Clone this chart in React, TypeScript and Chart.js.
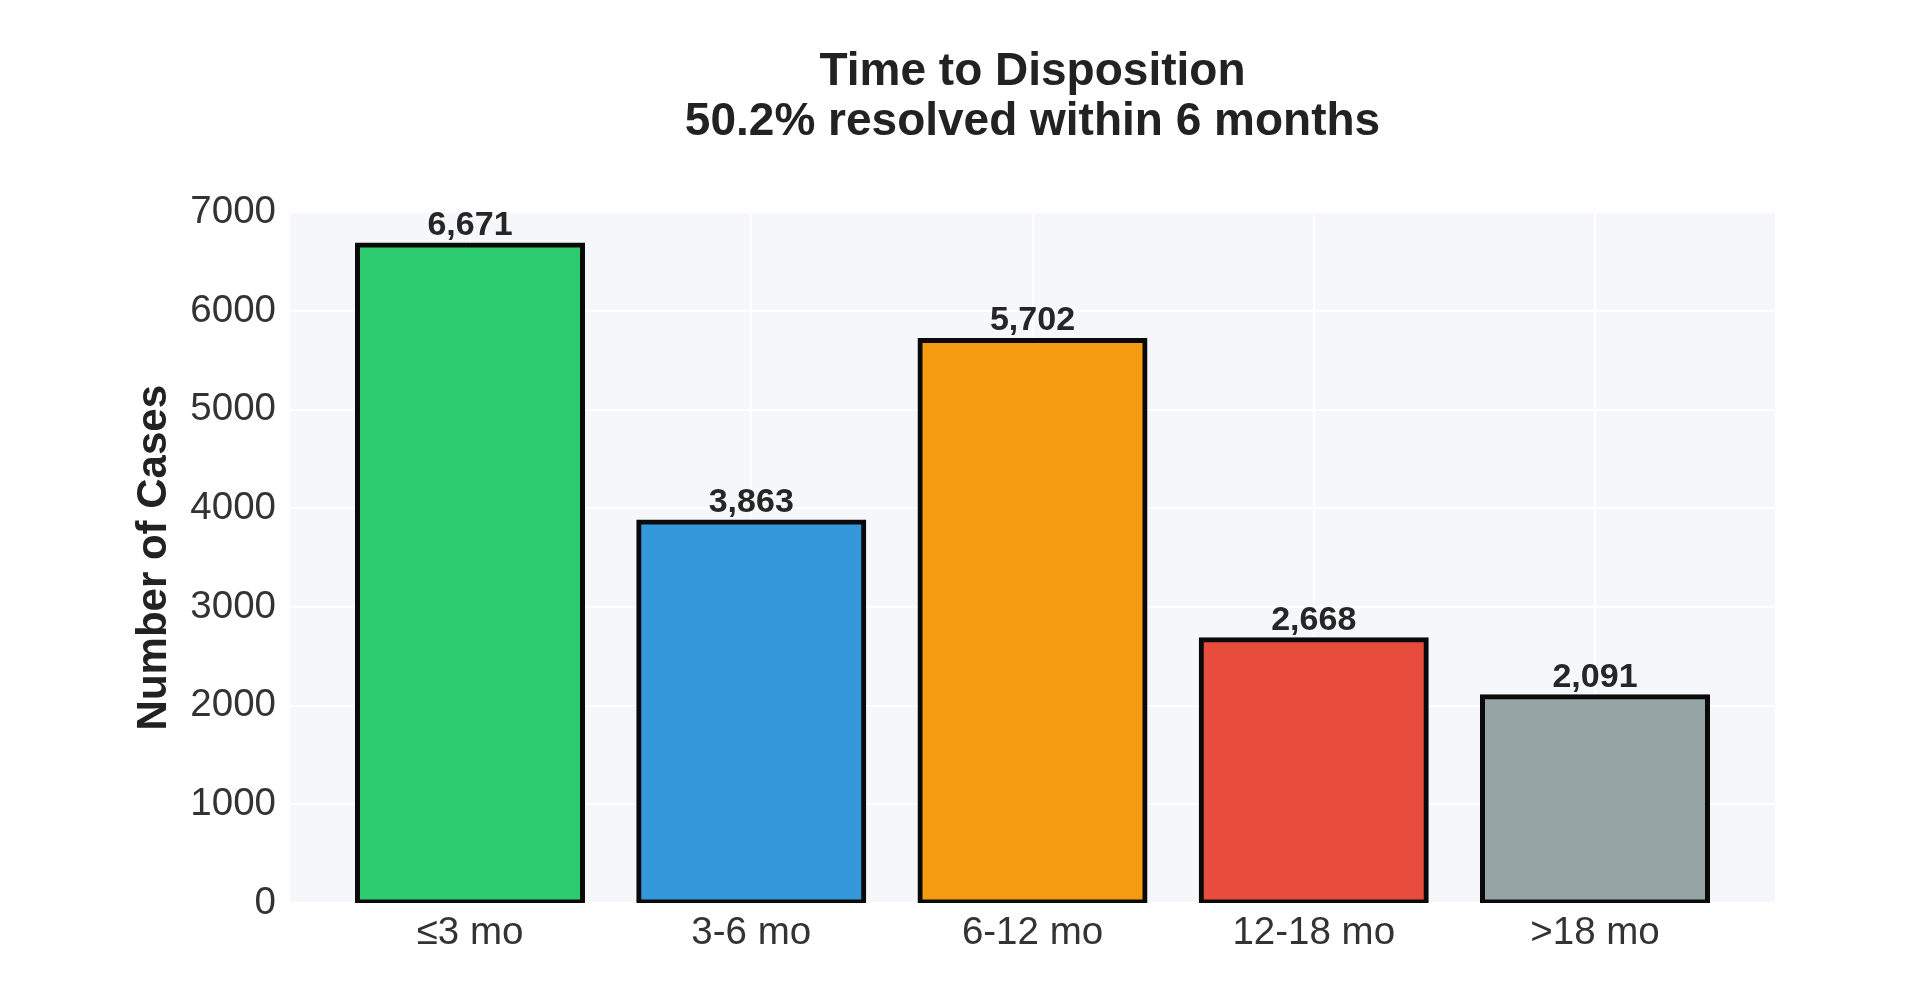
import React, { useEffect, useRef } from "react";
import { Chart, registerables } from "chart.js";

Chart.register(...registerables);

const categories = ["≤3 mo", "3-6 mo", "6-12 mo", "12-18 mo", ">18 mo"];
const caseCounts = [6671, 3863, 5702, 2668, 2091];
const barColors = ["#2ecc71", "#3498db", "#f39c12", "#e74c3c", "#95a5a6"];
const yTicks = [0, 1000, 2000, 3000, 4000, 5000, 6000, 7000];
const titleLines = ["Time to Disposition", "50.2% resolved within 6 months"];
const yAxisTitle = "Number of Cases";

const FONT = "'Liberation Sans', Arial, sans-serif";

export default function App() {
  const canvasRef = useRef<HTMLCanvasElement | null>(null);

  useEffect(() => {
    const canvas = canvasRef.current;
    if (!canvas) return;

    const bgPlugin = {
      id: "plotBg",
      beforeDraw(chart: any) {
        const { ctx, chartArea } = chart;
        ctx.save();
        ctx.fillStyle = "#ffffff";
        ctx.fillRect(0, 0, chart.width, chart.height);
        ctx.fillStyle = "#f5f7fa";
        ctx.fillRect(chartArea.left, chartArea.top, chartArea.right - chartArea.left, chartArea.bottom - chartArea.top);
        ctx.restore();
      },
    };

    const valueLabels = {
      id: "valueLabels",
      afterDatasetsDraw(chart: any) {
        const { ctx } = chart;
        const meta = chart.getDatasetMeta(0);
        ctx.save();
        ctx.font = `bold 34px ${FONT}`;
        ctx.fillStyle = "#262626";
        ctx.textAlign = "center";
        ctx.textBaseline = "alphabetic";
        meta.data.forEach((el: any, i: number) => {
          ctx.fillText(caseCounts[i].toLocaleString("en-US"), el.x, el.y - 10);
        });
        ctx.restore();
      },
    };

    const chart = new Chart(canvas, {
      type: "bar",
      data: {
        datasets: [
          {
            data: caseCounts.map((v, i) => ({ x: i, y: v })),
            backgroundColor: barColors,
            borderColor: "#0a0a0a",
            borderWidth: 5,
            inflateAmount: 2.5,
            borderSkipped: false,
            barPercentage: 0.8,
            categoryPercentage: 1,
            clip: 0,
          },
        ],
      },
      options: {
        responsive: false,
        animation: false,
        devicePixelRatio: 1,
        layout: { padding: { left: 0, right: 145, top: 0, bottom: 0 } },
        plugins: {
          legend: { display: false },
          tooltip: { enabled: false },
          title: {
            display: true,
            fullSize: false,
            text: titleLines,
            color: "#222222",
            font: { family: FONT, size: 46, weight: "bold", lineHeight: 1.07 },
            padding: { top: 48, bottom: 66 },
          },
        },
        scales: {
          x: {
            type: "linear",
            min: -0.64,
            max: 4.64,
            offset: false,
            afterBuildTicks: (axis: any) => {
              axis.ticks = categories.map((_, i) => ({ value: i }));
            },
            afterFit: (axis: any) => {
              axis.height = 97;
            },
            grid: { color: "#ffffff", lineWidth: 2, drawTicks: false, offset: false },
            border: { display: false },
            ticks: {
              padding: 7,
              color: "#333333",
              font: { family: FONT, size: 38.5 },
              callback: (v: any) => categories[Math.round(Number(v))] ?? "",
              autoSkip: false,
              maxRotation: 0,
            },
          },
          y: {
            min: 0,
            max: 7000,
            afterBuildTicks: (axis: any) => {
              axis.ticks = yTicks.map((v) => ({ value: v }));
            },
            afterFit: (axis: any) => {
              axis.width = 290;
            },
            grid: { color: "#ffffff", lineWidth: 2, drawTicks: false },
            border: { display: false },
            ticks: {
              padding: 14,
              color: "#333333",
              font: { family: FONT, size: 38.5 },
              callback: (v: any) => String(v),
            },
            title: {
              display: true,
              text: yAxisTitle,
              color: "#222222",
              font: { family: FONT, size: 42, weight: "bold", lineHeight: 1.2 },
              padding: { top: 129, bottom: 0 },
            },
          },
        },
      },
      plugins: [bgPlugin, valueLabels],
    } as any);

    return () => chart.destroy();
  }, []);

  return (
    <div style={{ position: "absolute", left: 0, top: 0, width: 1920, height: 1000, background: "#fff" }}>
      <canvas ref={canvasRef} width={1920} height={1000} style={{ width: 1920, height: 1000, display: "block" }} />
    </div>
  );
}
